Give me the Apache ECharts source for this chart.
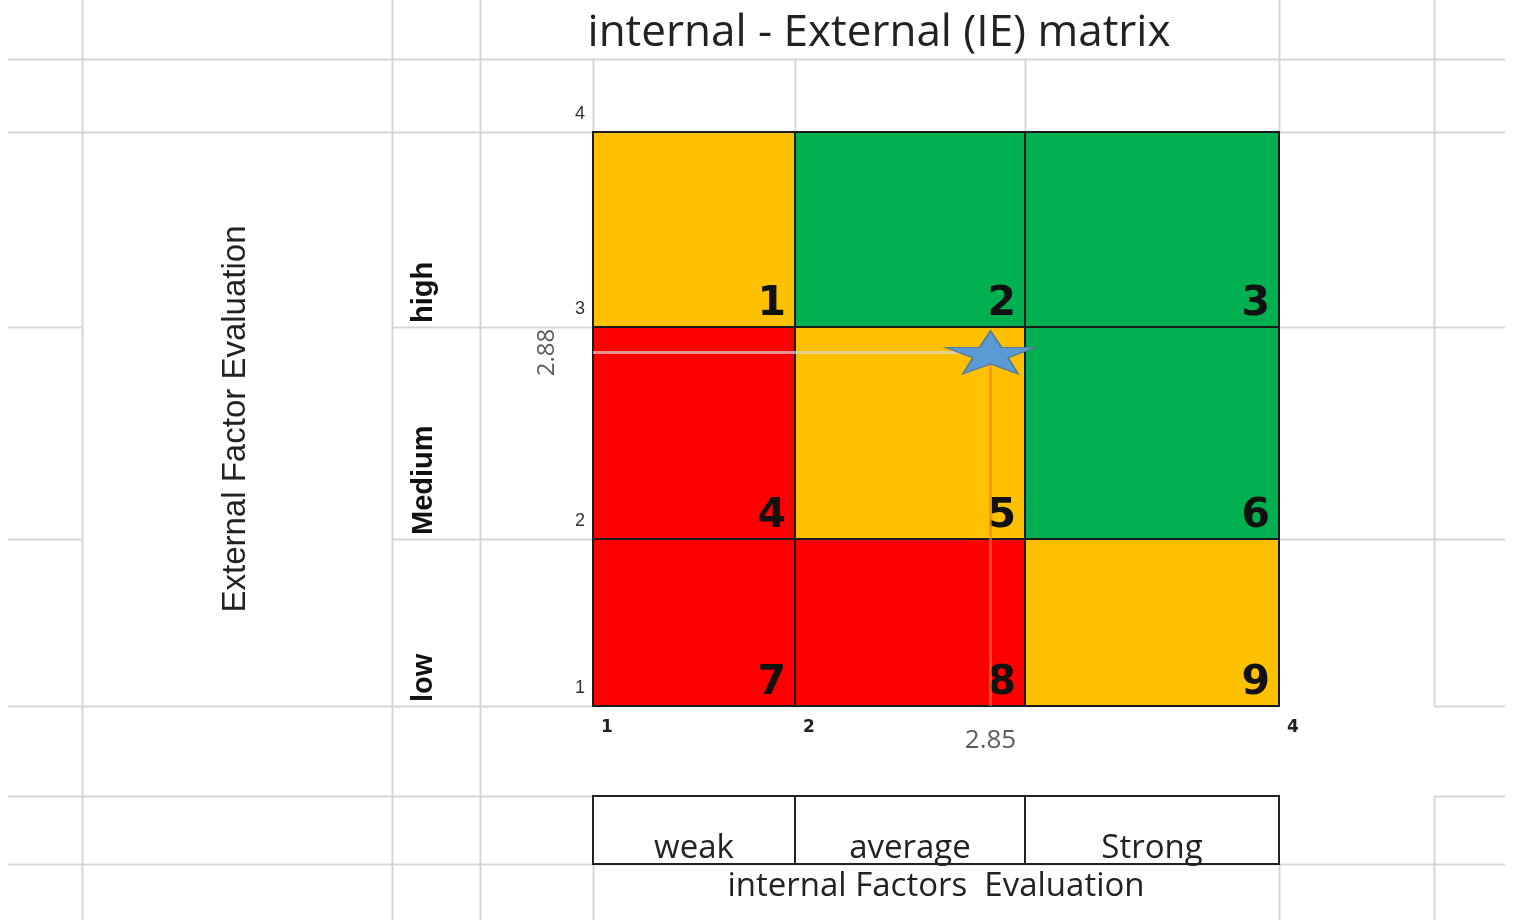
<!DOCTYPE html>
<html>
<head>
<meta charset="utf-8">
<script src="https://cdn.jsdelivr.net/npm/echarts@6/dist/echarts.min.js"></script>
<style>
  html, body { margin: 0; padding: 0; background: #ffffff; }
  #chart { width: 1514px; height: 920px; }
</style>
</head>
<body>
<div id="chart"></div>
<script>
// ---- chart content ----
const titleText = 'internal - External (IE) matrix';
const ifeName = 'internal Factors  Evaluation';
const efeName = 'External Factor Evaluation';
const ifeBands = ['weak', 'average', 'Strong'];      // columns, left to right
const efeBands = ['low', 'Medium', 'high'];          // rows, bottom to top
const bandEdges = [1, 2, 3, 4];                      // score limits of each band
const xTickLabels = [1, 2, 4];
const yTickLabels = [1, 2, 3, 4];
// cell numbers and strategy zone, rows listed from high (top) to low (bottom)
const cellNumbers = [[1, 2, 3], [4, 5, 6], [7, 8, 9]];
const cellZones = [
  ['hold', 'grow', 'grow'],
  ['harvest', 'hold', 'grow'],
  ['harvest', 'harvest', 'hold']
];
const ifeScore = 2.85;   // internal factor evaluation total score
const efeScore = 2.88;   // external factor evaluation total score

// ---- layout (sheet column widths / row heights in px) ----
const colWidths = [202, 230, 254];    // weak, average, Strong
const rowHeights = [195, 212, 167];   // high, Medium, low (top to bottom)
const matrixLeft = 593;
const matrixTop = 132;
const captionRow = { top: 796, height: 68 };
const levelCol = { left: 392, width: 88 };

// ---- styling ----
const zoneColors = { grow: '#00B050', hold: '#FFC000', harvest: '#FF0000' };
const sheetLine = '#d6d6d6';
const segoeLike = '"Open Sans", "Noto Sans", sans-serif';
const arialLike = '"Liberation Sans", Arial, sans-serif';
const STAR = 'path://M50,0 L61.8,35.1 L98.1,35.1 L68.7,56.7 L79.4,91 L50,70 L20.6,91 L31.3,56.7 L1.9,35.1 L38.2,35.1 Z';

const nB = bandEdges.length - 1;
const colLeft = [matrixLeft];
colWidths.forEach((w, i) => colLeft.push(colLeft[i] + w));
const rowTop = [matrixTop];
rowHeights.forEach((h, i) => rowTop.push(rowTop[i] + h));
const matrixRight = colLeft[nB];
const matrixBottom = rowTop[nB];

const bandOf = v => {
  for (let i = 0; i < nB; i++) if (v >= bandEdges[i] && v < bandEdges[i + 1]) return i;
  return nB - 1;
};
// split [from, to] at band edges -> [[band, a, b], ...]
const splitByBands = (from, to) => {
  const lo = Math.min(from, to), hi = Math.max(from, to);
  const out = [];
  for (let i = 0; i < nB; i++) {
    const a = Math.max(lo, bandEdges[i]), b = Math.min(hi, bandEdges[i + 1]);
    if (b > a) out.push([i, a, b]);
  }
  return out;
};

const hidden = { axisLine: { show: false }, axisTick: { show: false }, splitLine: { show: false } };
const grids = [], xAxes = [], yAxes = [], series = [];
const addGrid = (g, xa, ya) => {
  const k = grids.length;
  grids.push(g);
  xAxes.push(Object.assign({ gridIndex: k, type: 'value' }, hidden, xa));
  yAxes.push(Object.assign({ gridIndex: k, type: 'value' }, hidden, ya));
  return k;
};

// one grid per matrix cell so each band keeps its own width / height
const cellGrid = [];
for (let r = 0; r < nB; r++) {
  cellGrid.push([]);
  const b = nB - 1 - r;
  for (let c = 0; c < nB; c++) {
    const k = addGrid(
      { left: colLeft[c], top: rowTop[r], width: colWidths[c], height: rowHeights[r] },
      {
        min: bandEdges[c], max: bandEdges[c + 1], interval: 1, show: r === nB - 1,
        axisLabel: {
          formatter: v => (xTickLabels.includes(v) && (v !== bandEdges[c + 1] || c === nB - 1) ? String(v) : ''),
          showMinLabel: true, showMaxLabel: true,
          align: 'left', padding: [0, 0, 0, 8], margin: 13,
          fontFamily: '"DejaVu Sans", sans-serif', fontWeight: 'bold', fontSize: 17, color: '#222'
        }
      },
      {
        min: bandEdges[b], max: bandEdges[b + 1], interval: 1, show: c === 0,
        axisLabel: {
          formatter: v => (yTickLabels.includes(v) && (v !== bandEdges[b + 1] || r === 0) ? String(v) : ''),
          showMinLabel: true, showMaxLabel: true,
          verticalAlign: 'bottom', padding: [0, 0, 9, 0], margin: 8,
          fontFamily: arialLike, fontSize: 18, color: '#333'
        }
      }
    );
    cellGrid[r].push(k);
    series.push({
      type: 'custom', xAxisIndex: k, yAxisIndex: k, z: 2,
      data: [[bandEdges[c], bandEdges[c + 1], bandEdges[b], bandEdges[b + 1], cellNumbers[r][c]]],
      encode: { x: [0, 1], y: [2, 3] },
      renderItem(params, api) {
        const tl = api.coord([api.value(0), api.value(3)]);
        const br = api.coord([api.value(1), api.value(2)]);
        return {
          type: 'group',
          children: [
            {
              type: 'rect',
              shape: { x: tl[0], y: tl[1], width: br[0] - tl[0], height: br[1] - tl[1] },
              style: { fill: zoneColors[cellZones[r][c]], stroke: '#1b1b1b', lineWidth: 2 }
            },
            {
              type: 'text', x: br[0] - 9, y: br[1] - 2, z2: 5,
              style: {
                text: String(api.value(4)), align: 'right', verticalAlign: 'bottom',
                font: 'bold 41px "DejaVu Sans", sans-serif', fill: '#111'
              }
            }
          ]
        };
      }
    });
  }
}

// guide from the EFE score across to the point, and from the point down to the IFE score
const efeRow = nB - 1 - bandOf(efeScore);
const ifeCol = bandOf(ifeScore);
splitByBands(bandEdges[0], ifeScore).forEach(([c, a, b]) => {
  const k = cellGrid[efeRow][c];
  series.push({
    type: 'line', xAxisIndex: k, yAxisIndex: k, symbol: 'none', z: 4, clip: false,
    data: [[a, efeScore], [b, efeScore]],
    lineStyle: { color: 'rgba(215,215,215,0.68)', width: 3 }
  });
});
splitByBands(bandEdges[0], efeScore).forEach(([band, a, b]) => {
  const k = cellGrid[nB - 1 - band][ifeCol];
  series.push({
    type: 'line', xAxisIndex: k, yAxisIndex: k, symbol: 'none', z: 4, clip: false,
    data: [[ifeScore, b], [ifeScore, a]],
    lineStyle: { color: 'rgba(237,125,49,0.6)', width: 3 }
  });
});

// company position
{
  const k = cellGrid[efeRow][ifeCol];
  series.push({
    type: 'scatter', xAxisIndex: k, yAxisIndex: k, z: 6, clip: false,
    data: [[ifeScore, efeScore]],
    symbol: STAR, symbolSize: [90, 43],
    itemStyle: { color: '#5B9BD5', borderColor: '#5d7a96', borderWidth: 1.5, opacity: 1 }
  });
}

// score read-outs next to the axes
{
  const k1 = cellGrid[efeRow][0];
  series.push({
    type: 'scatter', xAxisIndex: k1, yAxisIndex: k1, z: 6, clip: false,
    symbolSize: 1, itemStyle: { color: 'rgba(0,0,0,0)' },
    data: [{
      value: [bandEdges[0], efeScore],
      label: {
        show: true, formatter: efeScore.toFixed(2), position: 'inside', rotate: 90,
        offset: [0, -46], fontFamily: segoeLike, fontSize: 24, color: '#333'
      }
    }]
  });
  const k2 = cellGrid[nB - 1][ifeCol];
  series.push({
    type: 'scatter', xAxisIndex: k2, yAxisIndex: k2, z: 6, clip: false,
    symbolSize: 1, itemStyle: { color: 'rgba(0,0,0,0)' },
    data: [{
      value: [ifeScore, bandEdges[0]],
      label: {
        show: true, formatter: ifeScore.toFixed(2), position: 'bottom', distance: 21,
        fontFamily: segoeLike, fontSize: 26, color: '#333'
      }
    }]
  });
}

// IFE band boxes under the matrix
ifeBands.forEach((name, c) => {
  const k = addGrid(
    { left: colLeft[c], top: captionRow.top, width: colWidths[c], height: captionRow.height },
    { min: bandEdges[c], max: bandEdges[c + 1], show: false },
    { min: 0, max: 1, show: false }
  );
  series.push({
    type: 'custom', xAxisIndex: k, yAxisIndex: k,
    data: [[bandEdges[c], bandEdges[c + 1]]],
    encode: { x: [0, 1] },
    renderItem(params, api) {
      const tl = api.coord([api.value(0), 1]);
      const br = api.coord([api.value(1), 0]);
      return {
        type: 'group',
        children: [
          {
            type: 'rect',
            shape: { x: tl[0], y: tl[1], width: br[0] - tl[0], height: br[1] - tl[1] },
            style: { fill: '#fff', stroke: '#222', lineWidth: 2 }
          },
          {
            type: 'text', x: (tl[0] + br[0]) / 2, y: br[1] + 1,
            style: {
              text: name, align: 'center', verticalAlign: 'bottom',
              font: '33px ' + segoeLike, fill: '#222'
            }
          }
        ]
      };
    }
  });
});

// EFE band captions beside the matrix
efeBands.forEach((name, band) => {
  const r = nB - 1 - band;
  const k = addGrid(
    { left: levelCol.left, top: rowTop[r], width: levelCol.width, height: rowHeights[r] },
    { min: 0, max: 1, show: false },
    { min: bandEdges[band], max: bandEdges[band + 1], show: false }
  );
  series.push({
    type: 'custom', xAxisIndex: k, yAxisIndex: k,
    data: [[0, bandEdges[band]]],
    encode: { y: 1 },
    renderItem(params, api) {
      const p = api.coord([0, api.value(1)]);
      return {
        type: 'text', x: p[0] + 32, y: p[1] - 4, rotation: Math.PI / 2,
        style: {
          text: name, align: 'left', verticalAlign: 'middle',
          font: 'bold 29px ' + arialLike, fill: '#111'
        }
      };
    }
  });
});

// frames carrying the two axis titles
addGrid(
  { left: matrixLeft, top: captionRow.top, width: matrixRight - matrixLeft, height: captionRow.height },
  {
    min: 0, max: 1, axisLabel: { show: false },
    name: ifeName, nameLocation: 'middle', nameGap: 6,
    nameTextStyle: { fontFamily: segoeLike, fontSize: 33, color: '#222' }
  },
  { min: 0, max: 1, show: false }
);
addGrid(
  { left: levelCol.left, top: matrixTop, width: levelCol.width, height: matrixBottom - matrixTop },
  { min: 0, max: 1, show: false },
  {
    min: 0, max: 1, axisLabel: { show: false },
    name: efeName, nameLocation: 'middle', nameRotate: 90, nameGap: 140,
    nameTextStyle: { fontFamily: arialLike, fontSize: 33, color: '#222' }
  }
);

const chart = echarts.init(document.getElementById('chart'), null, { renderer: 'canvas' });

// spreadsheet cell borders behind the chart
const Y3 = rowTop[1], Y2 = rowTop[2], X2 = colLeft[1], X3 = colLeft[2];
const hLines = [
  [59, 8, 1505], [matrixTop, 8, 1505],
  [Y3, 8, 82], [Y3, levelCol.left, matrixLeft], [Y3, matrixRight, 1505],
  [Y2, 8, 82], [Y2, levelCol.left, matrixLeft], [Y2, matrixRight, 1505],
  [matrixBottom, 8, matrixLeft], [matrixBottom, 1434, 1505],
  [captionRow.top, 8, matrixLeft], [captionRow.top, 1434, 1505],
  [captionRow.top + captionRow.height, 8, 1505]
];
const vLines = [
  [82, 0, 920], [levelCol.left, 0, 920], [levelCol.left + levelCol.width, 0, 920],
  [matrixLeft, 59, matrixTop], [matrixLeft, 864, 920],
  [X2, 59, matrixTop], [X3, 59, matrixTop],
  [matrixRight, 0, matrixTop], [matrixRight, 864, 920],
  [1434, 0, matrixBottom], [1434, captionRow.top, 920]
];
const lineEls = [];
hLines.forEach(([y, x1, x2]) => lineEls.push({
  type: 'line', z: -10, silent: true,
  shape: { x1: x1, y1: Math.round(y) + 0.5, x2: x2, y2: Math.round(y) + 0.5 },
  style: { stroke: sheetLine, lineWidth: 2 }
}));
vLines.forEach(([x, y1, y2]) => lineEls.push({
  type: 'line', z: -10, silent: true,
  shape: { x1: Math.round(x) + 0.5, y1: y1, x2: Math.round(x) + 0.5, y2: y2 },
  style: { stroke: sheetLine, lineWidth: 2 }
}));

chart.setOption({
  animation: false,
  backgroundColor: '#ffffff',
  title: {
    text: titleText,
    left: 874,
    top: 6,
    textAlign: 'center',
    textStyle: { fontFamily: segoeLike, fontSize: 44, fontWeight: 'normal', color: '#222' }
  },
  grid: grids,
  xAxis: xAxes,
  yAxis: yAxes,
  series: series,
  graphic: { elements: lineEls }
});
</script>
</body>
</html>
